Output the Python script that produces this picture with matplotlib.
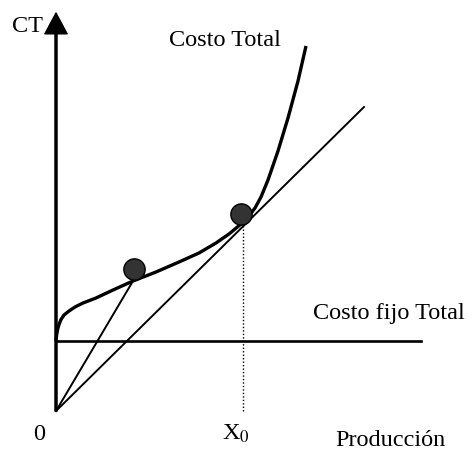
import matplotlib
matplotlib.use("Agg")
import matplotlib.pyplot as plt
import numpy as np

# total cost curve (units ~ pixels from origin)
ct_x = np.array([0, 0.6, 1.7, 3.2, 5, 8, 13, 19, 27, 40, 57, 77, 100, 123, 143,
                 160, 173, 185, 193, 199, 205, 212, 222, 232, 242, 250])
ct_y = np.array([70, 76, 82, 87, 91.5, 96, 100, 104, 108, 113, 121, 130, 139, 149,
                 158, 168, 177, 187, 195, 203, 214, 231, 260, 293, 330, 365])

fixed_cost = 70
fixed_end = 365
tangent1 = (77, 130)     # ray to min average cost point
ray_end = (308, 304)     # ray through X0
x0 = 187
x0_cost = 186
dots_x = [78, 185]
dots_y = [142, 197]

plt.rcParams["font.family"] = ["Liberation Serif", "DejaVu Serif"]
plt.rcParams["mathtext.fontset"] = "stix"

fig = plt.figure(figsize=(4.73, 4.5), dpi=100)
ax = fig.add_axes([0, 0, 1, 1])
ax.set_xlim(-56, 417)
ax.set_ylim(-39, 411)
ax.axis("off")

# axes with arrows
arrow = dict(facecolor="black", edgecolor="black", width=1.5,
             headwidth=16, headlength=15, shrink=0)
ax.annotate("", xy=(0, 398), xytext=(0, 0), arrowprops=arrow)
ax.annotate("", xy=(420, 0), xytext=(0, 0), arrowprops=arrow)

# fixed cost
ax.plot([0, fixed_end], [fixed_cost, fixed_cost], color="black", lw=1.9)

# rays from origin
ax.plot([0, tangent1[0]], [0, tangent1[1]], color="black", lw=1.4)
ax.plot([0, ray_end[0]], [0, ray_end[1]], color="black", lw=1.4)

# X0 dotted
ax.plot([x0, x0], [0, x0_cost], color="black", lw=1.0, ls=(0, (1, 1.5)))

# total cost
ax.plot(ct_x, ct_y, color="black", lw=2.4, solid_capstyle="butt",
        solid_joinstyle="round")

ax.scatter(dots_x, dots_y, s=235, color="#333333", edgecolor="black",
           linewidth=1.0, zorder=5)

fs = 17.5
ax.text(-29, 385, "CT", fontsize=fs, ha="center", va="center")
ax.text(169, 370, "Costo Total", fontsize=fs, ha="center", va="center")
ax.text(409, 97, "Costo fijo Total", fontsize=fs, ha="right", va="center")
ax.text(-17, -23, "0", fontsize=fs, ha="center", va="center")
ax.text(180, -23, r"X$_0$", fontsize=fs, ha="center", va="center")
ax.text(334, -29, "Producción", fontsize=fs, ha="center", va="center")

fig.savefig("out.png", dpi=100)
